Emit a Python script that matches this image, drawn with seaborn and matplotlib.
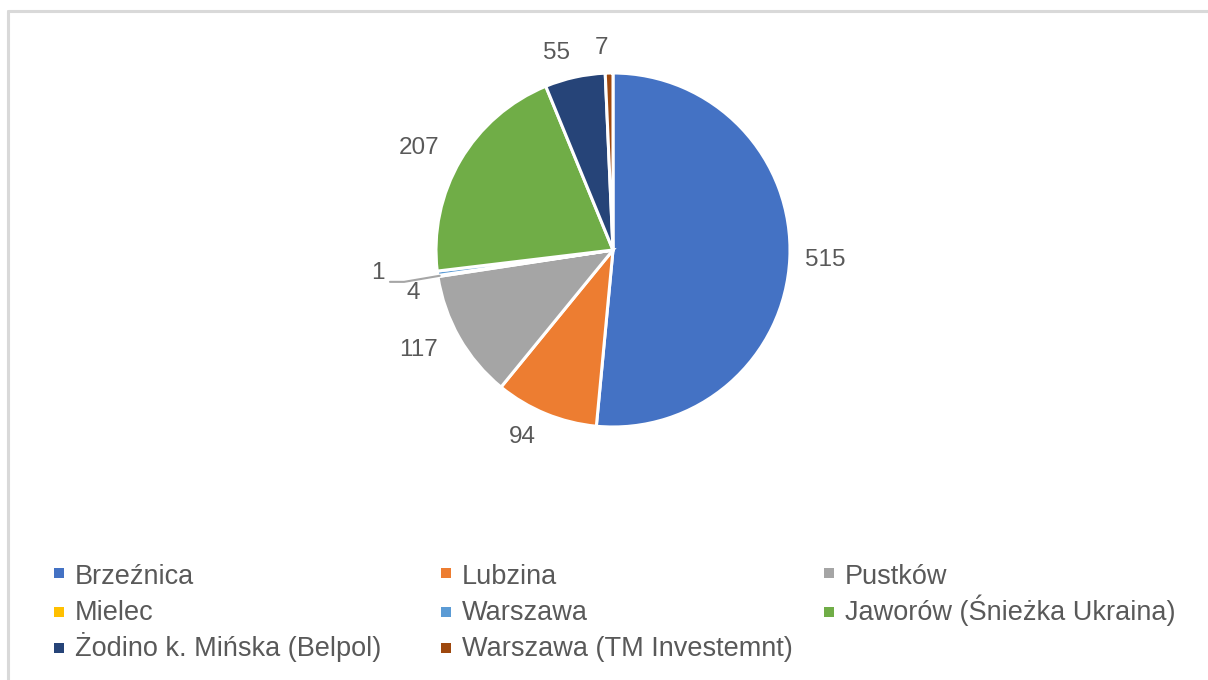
import numpy as np
import seaborn as sns
import matplotlib.pyplot as plt
from matplotlib.patches import Rectangle
from matplotlib.lines import Line2D

sns.set_theme(style="white")
plt.rcParams['font.family'] = ['Liberation Sans', 'DejaVu Sans']

# data
locations = ["Brzeźnica", "Lubzina", "Pustków", "Mielec", "Warszawa",
             "Jaworów (Śnieżka Ukraina)", "Żodino k. Mińska (Belpol)",
             "Warszawa (TM Investemnt)"]
counts = [515, 94, 117, 1, 4, 207, 55, 7]
colors = ["#4472C4", "#ED7D31", "#A5A5A5", "#FFC000", "#5B9BD5",
          "#70AD47", "#264478", "#9E480E"]

text_color = "#595959"

W, H = 1208, 680
fig = plt.figure(figsize=(W / 100, H / 100), dpi=100)

# light grey chart frame (top and left edges visible)
fig.add_artist(Line2D([8 / W, 8 / W], [0, 1 - 11 / H], color="#D9D9D9", lw=2.2))
fig.add_artist(Line2D([8 / W, 1], [1 - 11 / H, 1 - 11 / H], color="#D9D9D9", lw=2.2))

# pie axes: centre (613, 250) px, radius 177 px
cx, cy, r = 613, 250, 177
ax = fig.add_axes([(cx - r) / W, (H - cy - r) / H, 2 * r / W, 2 * r / H])
wedges, texts = ax.pie(counts, colors=colors, startangle=90, counterclock=False,
                       labels=[str(c) for c in counts], labeldistance=1.14,
                       wedgeprops=dict(edgecolor="white", linewidth=2.2),
                       textprops=dict(color=text_color, fontsize=17.5))
ax.set_xlim(-1, 1)
ax.set_ylim(-1, 1)
ax.set_aspect("auto")
ax.axis("off")

# nudge the big slice label a bit closer, like the original
x0, y0 = texts[0].get_position()
texts[0].set_position((x0 * 0.955, y0))

# small slices: move labels and add leader line for "1"
texts[3].set_position((-1.29, -0.13))
texts[4].set_position((-1.09, -0.245))
w = wedges[3]
ang = np.deg2rad((w.theta1 + w.theta2) / 2)
ex, ey = np.cos(ang) * 0.99, np.sin(ang) * 0.99
ax.plot([-1.26, -1.18, ex], [-0.18, -0.18, ey], color="#A6A6A6", lw=1.5,
        clip_on=False)

# legend: three equal-width columns, filled row by row
col_x = [54, 441, 824]
marker_y = [573, 612, 648]
baseline_y = [584, 620, 656]
for i, (name, c) in enumerate(zip(locations, colors)):
    x = col_x[i % 3]
    row = i // 3
    fig.add_artist(Rectangle((x / W, 1 - (marker_y[row] + 5) / H), 10 / W, 10 / H,
                             transform=fig.transFigure, facecolor=c,
                             edgecolor="none"))
    fig.text((x + 21) / W, 1 - baseline_y[row] / H, name, fontsize=19.5,
             color=text_color, ha="left", va="baseline")

fig.savefig("out.png", dpi=100)
